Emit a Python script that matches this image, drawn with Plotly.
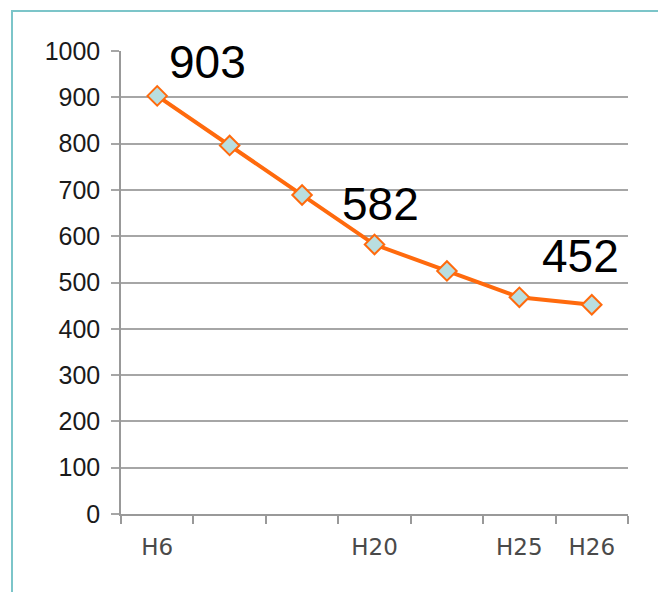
import plotly.graph_objects as go

# Yearly values (Heisei years), seven periods
periods = ["H6", "", "", "H20", "", "H25", "H26"]
values = [903, 796, 689, 582, 525, 468, 452]

# Points that carry a value label
labelled = [0, 3, 6]
label_shift = {0: (50, 34), 3: (6, 41), 6: (-11, 49)}

x_idx = list(range(len(periods)))

fig = go.Figure()
fig.add_trace(go.Scatter(
    x=x_idx,
    y=values,
    mode="lines+markers",
    line=dict(color="#FF6A0D", width=4),
    marker=dict(symbol="diamond", size=15, color="#B9DEE0",
                line=dict(color="#FF6A0D", width=2)),
    showlegend=False,
    hoverinfo="skip",
))

for i in labelled:
    dx, dy = label_shift[i]
    fig.add_annotation(
        x=x_idx[i], y=values[i], text=str(values[i]),
        showarrow=False, xshift=dx, yshift=dy,
        font=dict(family="Liberation Sans, Arial, sans-serif", size=46, color="#000000"),
        xanchor="center", yanchor="middle",
    )

# Outer frame of the chart area
fig.add_shape(type="rect", xref="paper", yref="paper",
              x0=-0.215, x1=1.07, y0=-0.2, y1=1.0864,
              line=dict(color="#7CC5C9", width=2), layer="below")

fig.update_layout(
    width=658, height=592,
    margin=dict(l=121, r=30, t=51, b=78),
    paper_bgcolor="white", plot_bgcolor="white",
    xaxis=dict(
        range=[-0.5, len(periods) - 0.5],
        tickmode="array", tickvals=x_idx, ticktext=periods,
        ticks="", showgrid=False, zeroline=False,
        showline=True, linecolor="#999999", linewidth=1.5,
        tickfont=dict(family="DejaVu Sans, sans-serif", size=23, color="#4A4A4A"),
        ticklabelstandoff=12,
        minor=dict(tickmode="array",
                   tickvals=[i - 0.5 for i in range(len(periods) + 1)],
                   ticks="outside", ticklen=8, tickcolor="#999999", tickwidth=1.5,
                   showgrid=False),
    ),
    yaxis=dict(
        range=[0, 1000], tickmode="linear", tick0=0, dtick=100,
        showgrid=True, gridcolor="#A6A6A6", gridwidth=1.5,
        zeroline=False, showline=True, linecolor="#999999", linewidth=1.5,
        ticks="outside", ticklen=8, tickcolor="#A6A6A6", tickwidth=1.5,
        tickfont=dict(family="Liberation Sans, Arial, sans-serif", size=25, color="#1A1A1A"),
        ticklabelstandoff=6,
    ),
)

fig.write_html("out.html")
